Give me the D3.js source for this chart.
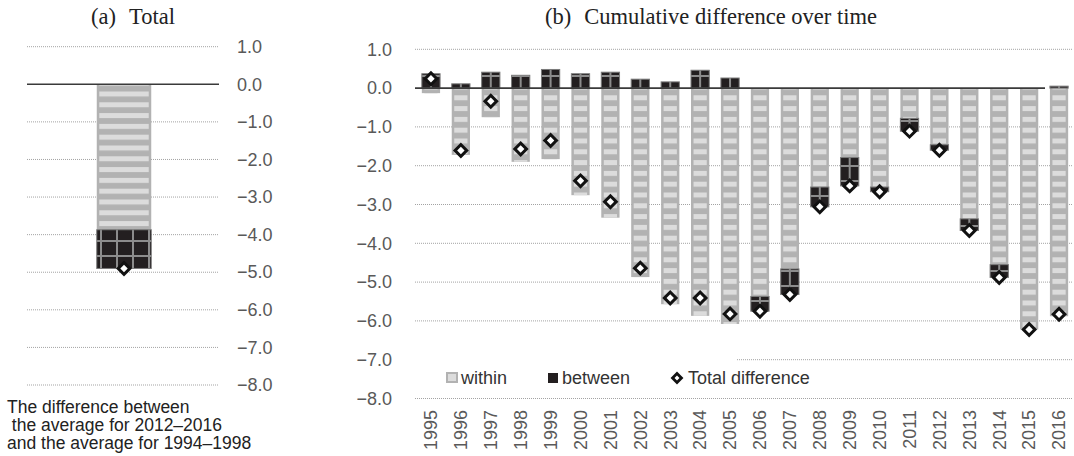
<!DOCTYPE html>
<html>
<head>
<meta charset="utf-8">
<script src="https://cdn.jsdelivr.net/npm/d3@7"></script>
<style>
  body { margin: 0; background: #fff; }
  svg { display: block; }
</style>
</head>
<body>
<svg id="chart" width="1074" height="456"></svg>
<script>
// ---- data ----
const years = [1995, 1996, 1997, 1998, 1999, 2000, 2001, 2002, 2003, 2004, 2005,
               2006, 2007, 2008, 2009, 2010, 2011, 2012, 2013, 2014, 2015, 2016];
const withinValues  = [-0.13, -1.72, -0.75, -1.90, -1.83, -2.76, -3.34, -4.87, -5.57, -5.87, -6.08,
                       -5.37, -4.66, -2.55, -1.79, -2.55, -0.78, -1.46, -3.37, -4.55, -6.22, -5.88];
const betweenValues = [0.37, 0.11, 0.41, 0.33, 0.48, 0.37, 0.41, 0.23, 0.16, 0.46, 0.26,
                       -0.38, -0.66, -0.51, -0.73, -0.12, -0.33, -0.14, -0.30, -0.33, 0.00, 0.05];
const totalValues   = [0.24, -1.61, -0.34, -1.57, -1.35, -2.39, -2.93, -4.64, -5.41, -5.41, -5.82,
                       -5.75, -5.32, -3.06, -2.52, -2.67, -1.11, -1.60, -3.67, -4.88, -6.22, -5.83];

const periodCategory = ["total"];
const periodWithin  = [-3.87];
const periodBetween = [-1.03];
const periodTotal   = [-4.90];

const yTicks = [1, 0, -1, -2, -3, -4, -5, -6, -7, -8];
const seriesKeys = ["within", "between"];
const legendLabels = ["within", "between", "Total difference"];
const titleA = ["(a)", "Total"];
const titleB = ["(b)", "Cumulative difference over time"];
const noteLines = ["The difference between", " the average for 2012\u20132016", "and the average for 1994\u20131998"];

// ---- setup ----
const svg = d3.select("#chart");
const defs = svg.append("defs");
const fmt = d3.format(".1f");
const labelFont = "'Liberation Sans', Arial, sans-serif";
const serifFont = "'Liberation Serif', 'Times New Roman', serif";
const gridColor = "#a3a3a3";
const tickColor = "#595959";

// horizontal stripes for "within", dark grid on black for "between"
function stripePattern(id, y0) {
  const p = defs.append("pattern").attr("id", id)
    .attr("patternUnits", "userSpaceOnUse")
    .attr("x", 0).attr("y", y0 + 7.2).attr("width", 20).attr("height", 10.8);
  p.append("rect").attr("width", 20).attr("height", 10.8).attr("fill", "#b2b2b2");
  p.append("rect").attr("width", 20).attr("height", 5).attr("fill", "#dcdcdc");
}
function gridPattern(id, x0, y0, w, h) {
  const p = defs.append("pattern").attr("id", id)
    .attr("patternUnits", "userSpaceOnUse")
    .attr("x", x0 - 1).attr("y", y0 - 1).attr("width", w).attr("height", h);
  p.append("rect").attr("width", w).attr("height", h).attr("fill", "#231f20");
  p.append("rect").attr("width", 2).attr("height", h).attr("fill", "#8c8c8c");
  p.append("rect").attr("width", w).attr("height", 2).attr("fill", "#8c8c8c");
}

function drawWithin(g, x, w, yTop, yBot, patId) {
  const h = Math.max(0, yBot - yTop);
  g.append("rect").attr("x", x).attr("y", yTop).attr("width", w).attr("height", h).attr("fill", "#b2b2b2");
  g.append("rect").attr("x", x + 2.5).attr("y", yTop).attr("width", w - 5).attr("height", h).attr("fill", `url(#${patId})`);
}
function drawBetween(g, x, w, yTop, yBot, patId) {
  const h = Math.max(0, yBot - yTop);
  if (h <= 0) return;
  g.append("rect").attr("x", x).attr("y", yTop).attr("width", w).attr("height", h)
    .attr("fill", `url(#${patId})`).attr("stroke", "#7a7a7a").attr("stroke-width", 1);
}
const diamond = d3.symbol().type(d3.symbolSquare).size(68);
function drawDiamond(g, cx, cy) {
  g.append("path").attr("d", diamond())
    .attr("transform", `translate(${cx},${cy}) rotate(45)`)
    .attr("fill", "#fff").attr("stroke", "#111").attr("stroke-width", 3);
}

// stack helper: positives up, negatives down, in key order
const stack = d3.stack().keys(seriesKeys).offset(d3.stackOffsetDiverging);

// ================= (a) Total =================
const yA = d3.scaleLinear().domain([-8, 1]).range([385, 46.7]);
const xA = d3.scaleBand().domain(periodCategory).range([27, 221]).paddingInner(0).paddingOuter(1.28);
const gA = svg.append("g");
stripePattern("stripeA", yA(0));
gridPattern("gridA", 101, 241, 16, 15);

gA.append("g").selectAll("line").data(yTicks.filter(d => d !== 0)).join("line")
  .attr("x1", 27).attr("x2", 219).attr("y1", d => yA(d)).attr("y2", d => yA(d))
  .attr("stroke", gridColor).attr("stroke-width", 1).attr("stroke-dasharray", "1,1");

const rowsA = periodCategory.map((c, i) => ({ cat: c, within: periodWithin[i], between: periodBetween[i] }));
const stackedA = stack(rowsA);
stackedA.forEach(series => {
  series.forEach(seg => {
    const x = xA(seg.data.cat), w = xA.bandwidth();
    const yTop = yA(Math.max(seg[0], seg[1])), yBot = yA(Math.min(seg[0], seg[1]));
    if (series.key === "within") drawWithin(gA, x, w, yTop, yBot, "stripeA");
    else drawBetween(gA, x, w, yTop, yBot, "gridA");
  });
});
gA.append("line").attr("x1", 27).attr("x2", 219).attr("y1", yA(0)).attr("y2", yA(0))
  .attr("stroke", "#3a3a3a").attr("stroke-width", 1.6);
periodCategory.forEach((c, i) => drawDiamond(gA, xA(c) + xA.bandwidth() / 2, yA(periodTotal[i])));

const axA = gA.append("g").attr("transform", "translate(232,0)")
  .call(d3.axisRight(yA).tickValues(yTicks).tickFormat(fmt).tickSize(0).tickPadding(5));
axA.select(".domain").remove();
axA.selectAll("text").attr("fill", tickColor).style("font-family", labelFont).style("font-size", "18px");

const tA = gA.append("text").attr("x", 133).attr("y", 24).attr("text-anchor", "middle")
  .style("font-family", serifFont).style("font-size", "22.5px").attr("fill", "#222");
tA.append("tspan").text(titleA[0]);
tA.append("tspan").attr("dx", 13).text(titleA[1]);

gA.append("g").selectAll("text").data(noteLines).join("text")
  .attr("x", 7).attr("y", (d, i) => 413 + i * 18)
  .attr("xml:space", "preserve")
  .style("white-space", "pre")
  .style("font-family", labelFont).style("font-size", "17.5px").attr("fill", "#222")
  .text(d => d);

// ================= (b) Cumulative difference over time =================
const yB = d3.scaleLinear().domain([-8, 1]).range([398.5, 49.3]);
const xB = d3.scaleBand().domain(years).range([416, 1074]).paddingInner(0.39).paddingOuter(0.195);
const gB = svg.append("g");
stripePattern("stripeB", yB(0));
gridPattern("gridB", xB(years[0]) + xB.bandwidth() / 2, 76, xB.step() / 2, 15);

gB.append("g").selectAll("line").data(yTicks.filter(d => d !== 0)).join("line")
  .attr("x1", 415).attr("x2", 1073).attr("y1", d => yB(d)).attr("y2", d => yB(d))
  .attr("stroke", gridColor).attr("stroke-width", 1).attr("stroke-dasharray", "1,1");

const rowsB = years.map((yr, i) => ({ year: yr, within: withinValues[i], between: betweenValues[i] }));
const stackedB = stack(rowsB);
stackedB.forEach(series => {
  series.forEach(seg => {
    const x = xB(seg.data.year), w = xB.bandwidth();
    const yTop = yB(Math.max(seg[0], seg[1])), yBot = yB(Math.min(seg[0], seg[1]));
    if (series.key === "within") drawWithin(gB, x, w, yTop, yBot, "stripeB");
    else drawBetween(gB, x, w, yTop, yBot, "gridB");
  });
});
gB.append("line").attr("x1", 415).attr("x2", 1045).attr("y1", yB(0)).attr("y2", yB(0))
  .attr("stroke", "#3a3a3a").attr("stroke-width", 1.6);
years.forEach((yr, i) => drawDiamond(gB, xB(yr) + xB.bandwidth() / 2, yB(totalValues[i])));

const axBy = gB.append("g").attr("transform", "translate(397,0)")
  .call(d3.axisLeft(yB).tickValues(yTicks).tickFormat(fmt).tickSize(0).tickPadding(5));
axBy.select(".domain").remove();
axBy.selectAll("text").attr("fill", tickColor).style("font-family", labelFont).style("font-size", "18px");

const axBx = gB.append("g").attr("transform", "translate(0,405)")
  .call(d3.axisBottom(xB).tickSize(0).tickFormat(d => String(d)));
axBx.select(".domain").remove();
axBx.selectAll("text")
  .attr("transform", "rotate(-90)").attr("x", -5).attr("y", 0).attr("dy", "0.35em")
  .style("text-anchor", "end")
  .attr("fill", tickColor).style("font-family", labelFont).style("font-size", "18px");

const tB = gB.append("text").attr("x", 711).attr("y", 24).attr("text-anchor", "middle")
  .style("font-family", serifFont).style("font-size", "22.5px").attr("fill", "#222");
tB.append("tspan").text(titleB[0]);
tB.append("tspan").attr("dx", 13).text(titleB[1]);

// legend (white box over the lower gridline)
const lg = gB.append("g");
lg.append("rect").attr("x", 415).attr("y", 352).attr("width", 322).attr("height", 40).attr("fill", "#fff");
const legendX = [447, 548, 677];
const legendY = 378;
// within swatch
lg.append("rect").attr("x", legendX[0]).attr("y", legendY - 5).attr("width", 10).attr("height", 9)
  .attr("fill", "#dcdcdc").attr("stroke", "#b2b2b2").attr("stroke-width", 2);
// between swatch
lg.append("rect").attr("x", legendX[1]).attr("y", legendY - 5).attr("width", 10).attr("height", 10)
  .attr("fill", "#231f20");
// total marker
lg.append("path").attr("d", d3.symbol().type(d3.symbolSquare).size(40)())
  .attr("transform", `translate(${legendX[2]},${legendY}) rotate(45)`)
  .attr("fill", "#fff").attr("stroke", "#111").attr("stroke-width", 2.8);
lg.selectAll("text.leg").data(legendLabels).join("text").attr("class", "leg")
  .attr("x", (d, i) => legendX[i] + (i === 2 ? 11 : 14))
  .attr("y", legendY + 6)
  .style("font-family", labelFont).style("font-size", "18px").attr("fill", "#333")
  .text(d => d);
</script>
</body>
</html>
